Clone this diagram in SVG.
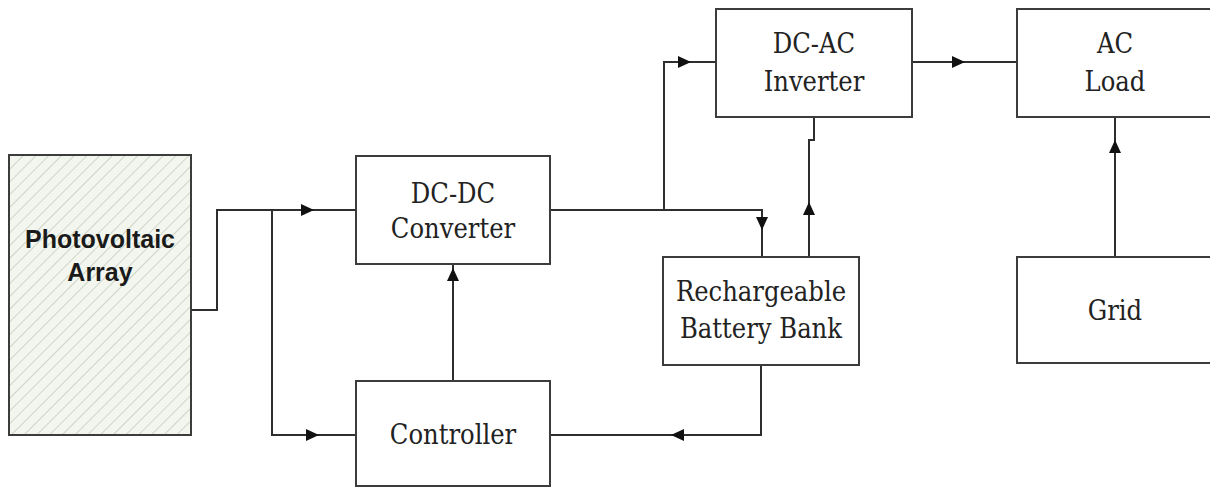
<svg xmlns="http://www.w3.org/2000/svg" xmlns:xlink="http://www.w3.org/1999/xlink" width="1210" height="488" viewBox="0 0 1210 488">
<style>
.box{fill:#fff;stroke:#3c3c3c;stroke-width:2}
.wire{fill:none;stroke:#2e2e2e;stroke-width:2}
.lbl{font-family:"DejaVu Serif Condensed","DejaVu Serif","Liberation Serif",serif;font-stretch:condensed;font-size:27px;fill:#222;text-anchor:middle}
.pv{font-family:"Liberation Sans",Arial,sans-serif;font-weight:bold;font-size:25px;fill:#1a1a1a;text-anchor:middle}
</style>
<defs>
<pattern id="hatch" width="9" height="9" patternUnits="userSpaceOnUse" patternTransform="rotate(45)">
<rect width="9" height="9" fill="#f3f6ee"/>
<line x1="0" y1="0" x2="0" y2="9" stroke="#c2cab9" stroke-width="1.5"/>
</pattern>
<path id="ah" d="M7,0 L-6,-6 L-6,6 Z" fill="#111"/>
</defs>
<rect width="1210" height="488" fill="#fff"/>
<g id="connectors">
<polyline class="wire" points="191,310 217,310 217,210 356,210"/>
<polyline class="wire" points="272,210 272,435 356,435"/>
<line class="wire" x1="453" y1="381" x2="453" y2="264"/>
<polyline class="wire" points="550,210 762,210 762,257"/>
<polyline class="wire" points="664,210 664,62 716,62"/>
<polyline class="wire" points="809,257 809,140 814,140 814,117"/>
<polyline class="wire" points="761,365 761,435 550,435"/>
<line class="wire" x1="912" y1="62" x2="1017" y2="62"/>
<line class="wire" x1="1115" y1="257" x2="1115" y2="117"/>
<use xlink:href="#ah" transform="translate(307,210)"/>
<use xlink:href="#ah" transform="translate(312,435)"/>
<use xlink:href="#ah" transform="translate(453,275) rotate(-90)"/>
<use xlink:href="#ah" transform="translate(684,62)"/>
<use xlink:href="#ah" transform="translate(762,223) rotate(90)"/>
<use xlink:href="#ah" transform="translate(809,209) rotate(-90)"/>
<use xlink:href="#ah" transform="translate(678,435) rotate(180)"/>
<use xlink:href="#ah" transform="translate(958,62)"/>
<use xlink:href="#ah" transform="translate(1115,147) rotate(-90)"/>
</g>
<g id="pv-array">
<rect x="9" y="155" width="182" height="280" fill="url(#hatch)" stroke="#3c3c3c" stroke-width="2"/>
<text class="pv" x="100" y="248">Photovoltaic</text>
<text class="pv" x="100" y="281">Array</text>
</g>
<g id="dcdc">
<rect class="box" x="356" y="156" width="194" height="108"/>
<text class="lbl" x="453" y="203">DC-DC</text>
<text class="lbl" x="453" y="238">Converter</text>
</g>
<g id="controller">
<rect class="box" x="356" y="381" width="194" height="105"/>
<text class="lbl" x="453" y="444">Controller</text>
</g>
<g id="battery">
<rect class="box" x="663" y="257" width="196" height="108"/>
<text class="lbl" x="761" y="301">Rechargeable</text>
<text class="lbl" x="761" y="338">Battery Bank</text>
</g>
<g id="inverter">
<rect class="box" x="716" y="9" width="196" height="108"/>
<text class="lbl" x="814" y="53">DC-AC</text>
<text class="lbl" x="814" y="91">Inverter</text>
</g>
<g id="acload">
<rect class="box" x="1017" y="9" width="196" height="108"/>
<text class="lbl" x="1115" y="53">AC</text>
<text class="lbl" x="1115" y="91">Load</text>
</g>
<g id="grid">
<rect class="box" x="1017" y="257" width="196" height="106"/>
<text class="lbl" x="1115" y="320">Grid</text>
</g>
</svg>
